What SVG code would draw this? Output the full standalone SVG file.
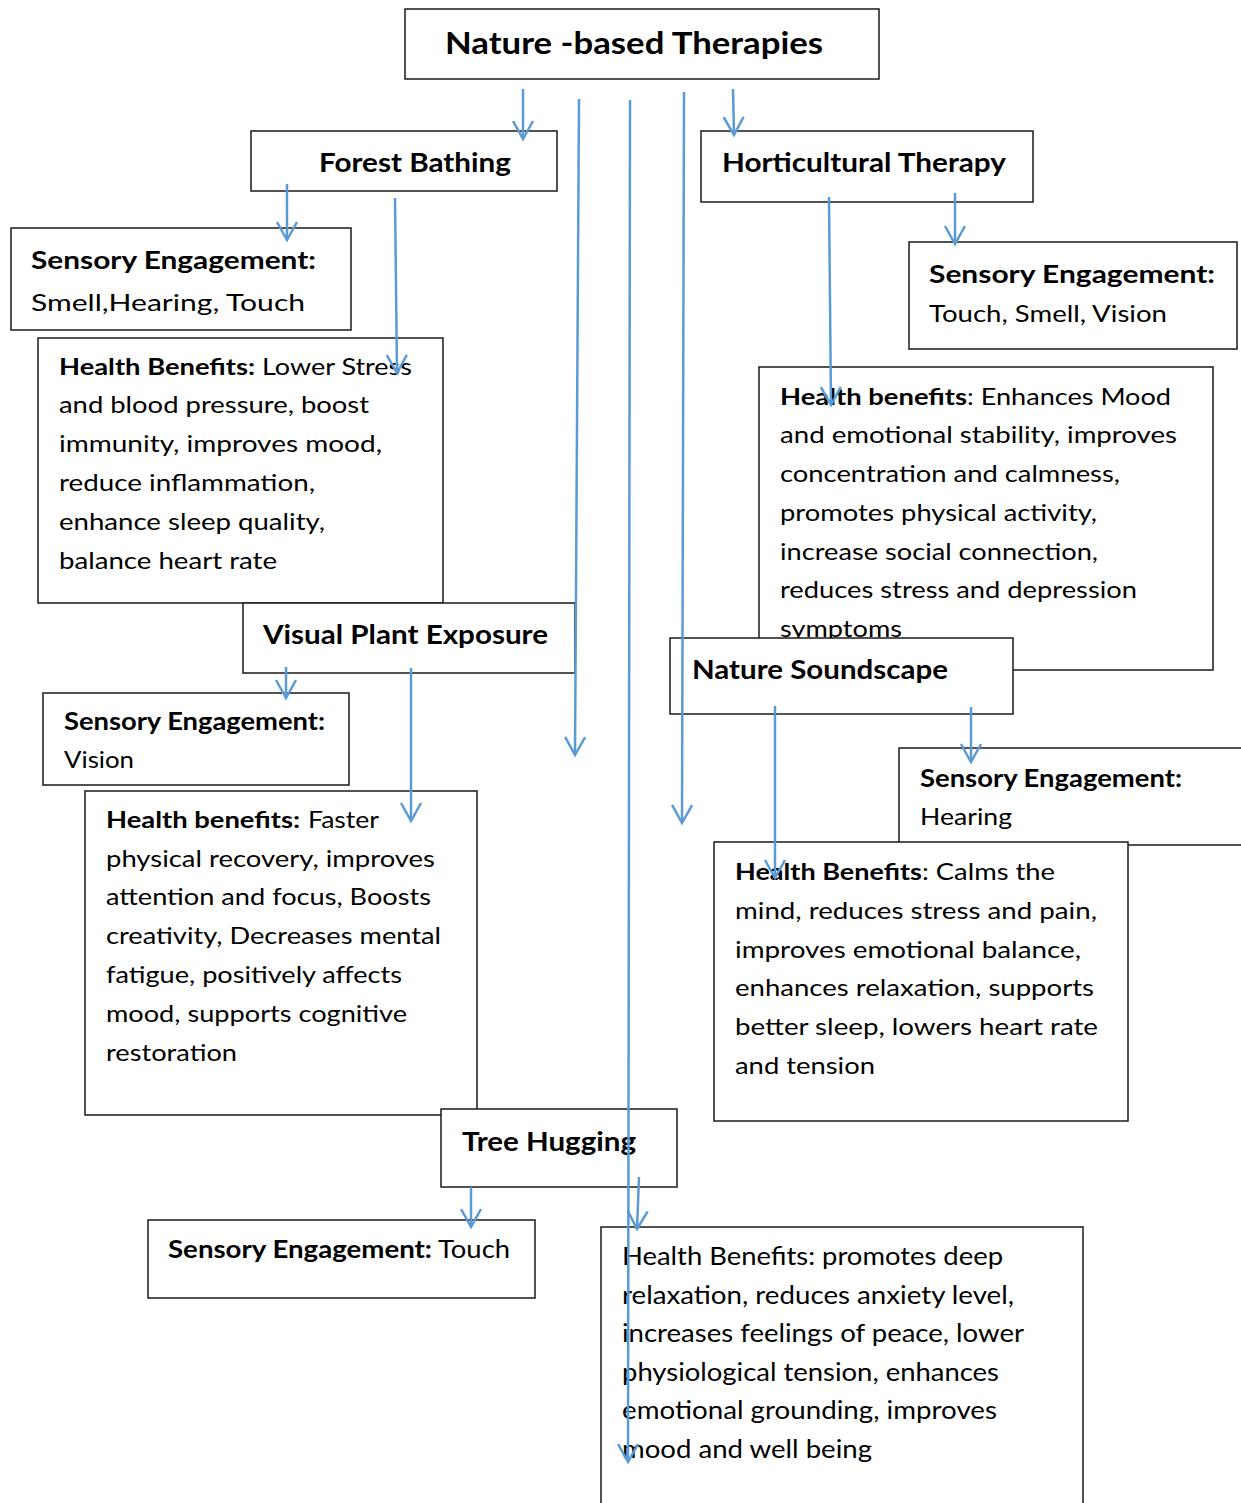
<svg xmlns="http://www.w3.org/2000/svg" width="1241" height="1503" viewBox="0 0 1241 1503">
  <defs>
    <marker id="arrow" markerUnits="userSpaceOnUse" markerWidth="40" markerHeight="40" viewBox="-20 -20 40 40" refX="0" refY="0" orient="auto" overflow="visible">
      <path d="M-18,-10 L0,0 L-18,10" fill="none" stroke="#5B9BD5" stroke-width="2.5"/>
    </marker>
    <style>
      .box{fill:#fff;stroke:#1a1a1a;stroke-width:1.5}
      text{font-family:Lato,"Open Sans","Liberation Sans",sans-serif;fill:#000}
      .head{font-weight:bold;font-size:27px}
      .main{font-weight:bold;font-size:31px}
      .lab{font-weight:bold;font-size:25px}
      .body{font-size:23px}
      .b{font-weight:bold}
      .cond{font-size:25px}
      .link{stroke:#5B9BD5;stroke-width:2.5;fill:none;marker-end:url(#arrow)}
    </style>
  </defs>
  <rect width="1241" height="1503" fill="#fff"/>

  <g id="nature-based-therapies">
    <rect class="box" x="405" y="9" width="474" height="70"/>
    <text class="main" x="445" y="54" textLength="378" lengthAdjust="spacingAndGlyphs">Nature -based Therapies</text>
  </g>

  <g id="forest-bathing">
    <rect class="box" x="251" y="131" width="306" height="60"/>
    <text class="head" x="319" y="172" textLength="192" lengthAdjust="spacingAndGlyphs">Forest Bathing</text>
  </g>

  <g id="horticultural-therapy">
    <rect class="box" x="701" y="131" width="332" height="71"/>
    <text class="head" x="722" y="172" textLength="284" lengthAdjust="spacingAndGlyphs">Horticultural Therapy</text>
  </g>

  <g id="forest-sensory">
    <rect class="box" x="11" y="228" width="340" height="102"/>
    <text class="lab" x="31" y="269" textLength="285" lengthAdjust="spacingAndGlyphs">Sensory Engagement:</text>
    <text class="body" x="31" y="311" textLength="274" lengthAdjust="spacingAndGlyphs" font-size="25">Smell,Hearing, Touch</text>
  </g>

  <g id="horticultural-sensory">
    <rect class="box" x="909" y="242" width="328" height="107"/>
    <text class="lab" x="929" y="283" textLength="286" lengthAdjust="spacingAndGlyphs">Sensory Engagement:</text>
    <text class="body" x="929" y="322" textLength="238" lengthAdjust="spacingAndGlyphs">Touch, Smell, Vision</text>
  </g>

  <g id="forest-health">
    <rect class="box" x="38" y="338" width="405" height="265"/>
    <text class="body b" x="59" y="375" textLength="196" lengthAdjust="spacingAndGlyphs">Health Benefits:</text>
    <text class="body" x="262" y="375" textLength="150" lengthAdjust="spacingAndGlyphs">Lower Stress</text>
    <text class="body" x="59" y="413" textLength="310" lengthAdjust="spacingAndGlyphs">and blood pressure, boost</text>
    <text class="body" x="59" y="452" textLength="323" lengthAdjust="spacingAndGlyphs">immunity, improves mood,</text>
    <text class="body" x="59" y="491" textLength="256" lengthAdjust="spacingAndGlyphs">reduce inflammation,</text>
    <text class="body" x="59" y="530" textLength="266" lengthAdjust="spacingAndGlyphs">enhance sleep quality,</text>
    <text class="body" x="59" y="569" textLength="218" lengthAdjust="spacingAndGlyphs">balance heart rate</text>
  </g>

  <g id="horticultural-health">
    <rect class="box" x="759" y="367" width="454" height="303"/>
    <text class="body b" x="780" y="405" textLength="187" lengthAdjust="spacingAndGlyphs">Health benefits</text>
    <text class="body" x="967" y="405" textLength="204" lengthAdjust="spacingAndGlyphs">: Enhances Mood</text>
    <text class="body" x="780" y="443" textLength="397" lengthAdjust="spacingAndGlyphs">and emotional stability, improves</text>
    <text class="body" x="780" y="482" textLength="340" lengthAdjust="spacingAndGlyphs">concentration and calmness,</text>
    <text class="body" x="780" y="521" textLength="317" lengthAdjust="spacingAndGlyphs">promotes physical activity,</text>
    <text class="body" x="780" y="560" textLength="318" lengthAdjust="spacingAndGlyphs">increase social connection,</text>
    <text class="body" x="780" y="598" textLength="357" lengthAdjust="spacingAndGlyphs">reduces stress and depression</text>
    <text class="body" x="780" y="637" textLength="122" lengthAdjust="spacingAndGlyphs">symptoms</text>
  </g>

  <g id="visual-plant-exposure">
    <rect class="box" x="243" y="603" width="332" height="70"/>
    <text class="head" x="263" y="644" textLength="285" lengthAdjust="spacingAndGlyphs">Visual Plant Exposure</text>
  </g>

  <g id="nature-soundscape">
    <rect class="box" x="670" y="638" width="343" height="76"/>
    <text class="head" x="692" y="679" textLength="256" lengthAdjust="spacingAndGlyphs">Nature Soundscape</text>
  </g>

  <g id="visual-sensory">
    <rect class="box" x="43" y="693" width="306" height="92"/>
    <text class="lab" x="64" y="730" textLength="261" lengthAdjust="spacingAndGlyphs" font-size="24">Sensory Engagement:</text>
    <text class="body" x="64" y="768" textLength="70" lengthAdjust="spacingAndGlyphs">Vision</text>
  </g>

  <g id="soundscape-sensory">
    <rect class="box" x="899" y="748" width="350" height="97"/>
    <text class="lab" x="920" y="787" textLength="262" lengthAdjust="spacingAndGlyphs" font-size="24">Sensory Engagement:</text>
    <text class="body" x="920" y="825" textLength="92" lengthAdjust="spacingAndGlyphs">Hearing</text>
  </g>

  <g id="visual-health">
    <rect class="box" x="85" y="791" width="392" height="324"/>
    <text class="body b" x="106" y="828" textLength="194" lengthAdjust="spacingAndGlyphs">Health benefits:</text>
    <text class="body" x="308" y="828" textLength="71" lengthAdjust="spacingAndGlyphs">Faster</text>
    <text class="body" x="106" y="867" textLength="329" lengthAdjust="spacingAndGlyphs">physical recovery, improves</text>
    <text class="body" x="106" y="905" textLength="325" lengthAdjust="spacingAndGlyphs">attention and focus, Boosts</text>
    <text class="body" x="106" y="944" textLength="335" lengthAdjust="spacingAndGlyphs">creativity, Decreases mental</text>
    <text class="body" x="106" y="983" textLength="296" lengthAdjust="spacingAndGlyphs">fatigue, positively affects</text>
    <text class="body" x="106" y="1022" textLength="301" lengthAdjust="spacingAndGlyphs">mood, supports cognitive</text>
    <text class="body" x="106" y="1061" textLength="131" lengthAdjust="spacingAndGlyphs">restoration</text>
  </g>

  <g id="soundscape-health">
    <rect class="box" x="714" y="842" width="414" height="279"/>
    <text class="body b" x="735" y="880" textLength="187" lengthAdjust="spacingAndGlyphs">Health Benefits</text>
    <text class="body" x="922" y="880" textLength="133" lengthAdjust="spacingAndGlyphs">: Calms the</text>
    <text class="body" x="735" y="919" textLength="362" lengthAdjust="spacingAndGlyphs">mind, reduces stress and pain,</text>
    <text class="body" x="735" y="958" textLength="346" lengthAdjust="spacingAndGlyphs">improves emotional balance,</text>
    <text class="body" x="735" y="996" textLength="359" lengthAdjust="spacingAndGlyphs">enhances relaxation, supports</text>
    <text class="body" x="735" y="1035" textLength="363" lengthAdjust="spacingAndGlyphs">better sleep, lowers heart rate</text>
    <text class="body" x="735" y="1074" textLength="140" lengthAdjust="spacingAndGlyphs">and tension</text>
  </g>

  <g id="tree-hugging">
    <rect class="box" x="441" y="1109" width="236" height="78"/>
    <text class="head" x="462" y="1151" textLength="174" lengthAdjust="spacingAndGlyphs">Tree Hugging</text>
  </g>

  <g id="tree-sensory">
    <rect class="box" x="148" y="1220" width="387" height="78"/>
    <text class="cond b" x="168" y="1258" textLength="264" lengthAdjust="spacingAndGlyphs">Sensory Engagement:</text>
    <text class="cond" x="438" y="1258" textLength="72" lengthAdjust="spacingAndGlyphs">Touch</text>
  </g>

  <g id="tree-health">
    <rect class="box" x="601" y="1227" width="482" height="290"/>
    <text class="cond" x="622" y="1265" textLength="381" lengthAdjust="spacingAndGlyphs">Health Benefits: promotes deep</text>
    <text class="cond" x="622" y="1304" textLength="392" lengthAdjust="spacingAndGlyphs">relaxation, reduces anxiety level,</text>
    <text class="cond" x="622" y="1342" textLength="402" lengthAdjust="spacingAndGlyphs">increases feelings of peace, lower</text>
    <text class="cond" x="622" y="1381" textLength="377" lengthAdjust="spacingAndGlyphs">physiological tension, enhances</text>
    <text class="cond" x="622" y="1419" textLength="375" lengthAdjust="spacingAndGlyphs">emotional grounding, improves</text>
    <text class="cond" x="622" y="1458" textLength="250" lengthAdjust="spacingAndGlyphs">mood and well being</text>
  </g>

  <g id="connectors">
    <path class="link" d="M523,89 L523,139"/>
    <path class="link" d="M579,99 L575,755"/>
    <path class="link" d="M630,100 L628,1462"/>
    <path class="link" d="M684,92 L682,823"/>
    <path class="link" d="M733,89 L734,135"/>
    <path class="link" d="M287,184 L287,240"/>
    <path class="link" d="M395,198 L397,373"/>
    <path class="link" d="M829,197 L831,405"/>
    <path class="link" d="M955,193 L955,244"/>
    <path class="link" d="M286,667 L286,698"/>
    <path class="link" d="M411,668 L411,821"/>
    <path class="link" d="M775,706 L775,878"/>
    <path class="link" d="M971,707 L971,762"/>
    <path class="link" d="M471,1187 L471,1227"/>
    <path class="link" d="M639,1177 L637,1229"/>
  </g>
</svg>
